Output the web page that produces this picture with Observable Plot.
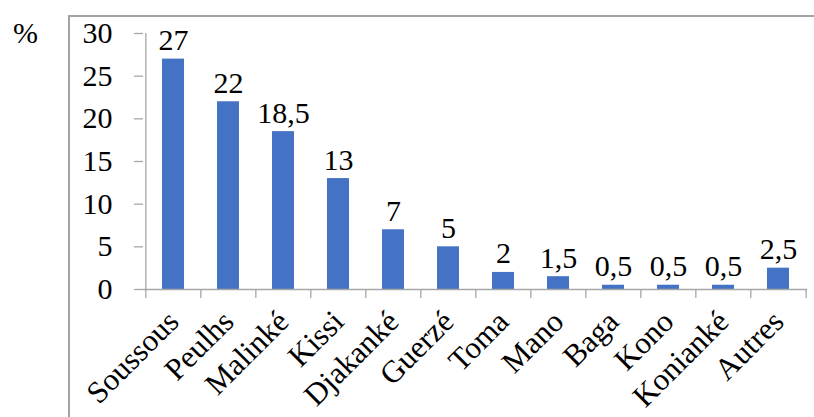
<!DOCTYPE html>
<html>
<head>
<meta charset="utf-8">
<script src="https://cdn.jsdelivr.net/npm/d3@7"></script>
<script src="https://cdn.jsdelivr.net/npm/@observablehq/plot@0.6"></script>
<style>
  html, body { margin: 0; padding: 0; background: #fff; }
  #wrap { position: relative; width: 814px; height: 417px; overflow: hidden; font-family: "Liberation Serif", "Times New Roman", serif; }
  #frame { position: absolute; left: 68px; top: 15px; width: 800px; height: 450px; border-left: 2px solid #a3a3a3; border-top: 2px solid #a3a3a3; }
  #unit { position: absolute; left: 13px; top: 16px; font-size: 30px; line-height: 34px; color: #000; }
  #chart { position: absolute; left: 0; top: 0; }
  #chart svg, #chart svg text { font-family: "Liberation Serif", "Times New Roman", serif !important; }
</style>
</head>
<body>
<div id="wrap">
  <div id="frame"></div>
  <div id="unit">%</div>
  <div id="chart"></div>
</div>
<script>
const categories = ["Soussous", "Peulhs", "Malinké", "Kissi", "Djakanké", "Guerzé", "Toma", "Mano", "Baga", "Kono", "Konianké", "Autres"];
const values = [27, 22, 18.5, 13, 7, 5, 2, 1.5, 0.5, 0.5, 0.5, 2.5];
const yTicks = [0, 5, 10, 15, 20, 25, 30];

const data = categories.map((c, i) => ({cat: c, value: values[i]}));
const fmt = v => String(v).replace(".", ",");

const W = 814, H = 417, mL = 143, mR = 7, mT = 33, mB = 128;
const pIn = 0.6, pOut = 0.3;
const step = (W - mL - mR) / (categories.length - pIn + 2 * pOut);
const gray = "#a6a6a6";
const serif = "Liberation Serif";

const chart = Plot.plot({
  width: W, height: H,
  marginLeft: mL, marginRight: mR, marginTop: mT, marginBottom: mB,
  style: {fontFamily: serif, fontSize: "30px", background: "transparent", overflow: "visible", color: "#000"},
  x: {domain: categories, paddingInner: pIn, paddingOuter: pOut, axis: null, label: null},
  y: {domain: [0, 30], axis: null, label: null},
  marks: [
    Plot.barY(data, {x: "cat", y: "value", fill: "#4472C4"}),
    Plot.ruleY([0], {stroke: gray, strokeWidth: 1.3}),
    Plot.ruleX([categories[0]], {x: d => d, y1: 0, y2: 30, dx: -step / 2, stroke: gray, strokeWidth: 1.3}),
    Plot.ruleX(categories, {x: d => d, y1: 0, y2: 0, insetBottom: -9, dx: -step / 2, stroke: gray, strokeWidth: 1.3}),
    Plot.ruleX([categories[categories.length - 1]], {x: d => d, y1: 0, y2: 0, insetBottom: -9, dx: step / 2, stroke: gray, strokeWidth: 1.3}),
    Plot.axisY(yTicks, {label: null, tickSize: 9, tickPadding: 22, stroke: gray, fill: "#000", fontSize: 30, fontFamily: serif, strokeWidth: 1.3}),
    Plot.axisX({label: null, tickSize: 0, tickPadding: 27, tickRotate: -45, fontSize: 31, fontFamily: serif, fill: "#000"}),
    Plot.text(data, {x: "cat", y: "value", text: d => fmt(d.value), dy: -9, lineAnchor: "bottom", fontSize: 30, fontFamily: serif, fill: "#000"})
  ]
});
document.getElementById("chart").appendChild(chart);
</script>
</body>
</html>
